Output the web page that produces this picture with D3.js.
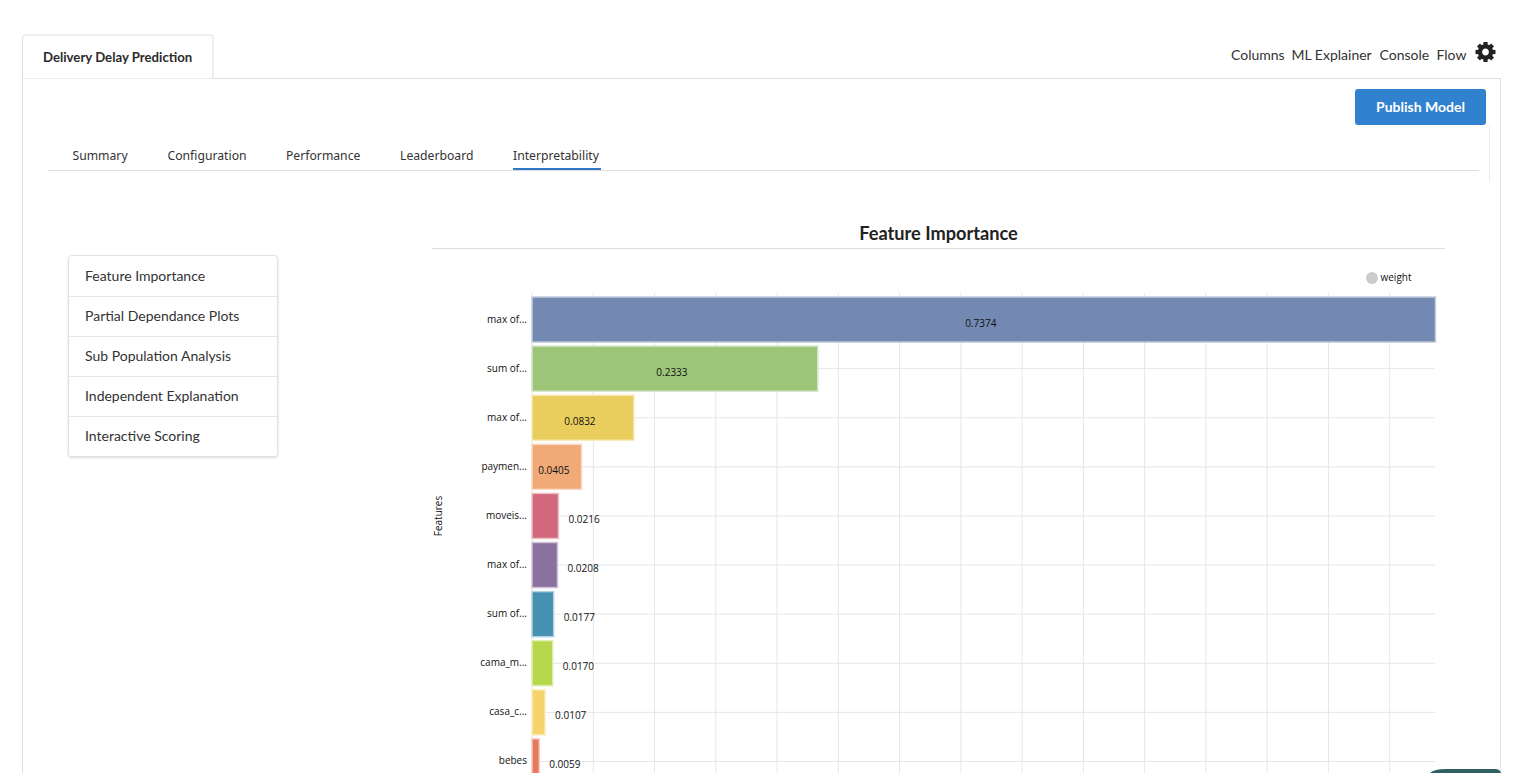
<!DOCTYPE html>
<html>
<head>
<meta charset="utf-8">
<script src="https://cdnjs.cloudflare.com/ajax/libs/d3/7.8.5/d3.min.js"></script>
<style>
  html, body { margin: 0; padding: 0; background: #fff; overflow: hidden; }
  svg { display: block; }
  text { font-family: Lato, sans-serif; fill: #2b2b2b; }
  .tab { font-family: "Noto Sans", sans-serif; font-size: 12.2px; fill: #333; }
  .side { font-size: 14px; fill: #333; }
  .nav { font-size: 14px; fill: #333; }
  .chart text { font-family: "Open Sans", sans-serif; font-size: 10px; fill: #111; }
  .grid line { stroke: #e6e6e6; }
  .grid path { display: none; }
</style>
</head>
<body>
<script>
// values
var features = ['max of...', 'sum of...', 'max of... ', 'paymen...', 'moveis...', 'max of...  ', 'sum of... ', 'cama_m...', 'casa_c...', 'bebes'];
var weights = [0.7374, 0.2333, 0.0832, 0.0405, 0.0216, 0.0208, 0.0177, 0.0170, 0.0107, 0.0059];
var barColors = ['#7389b1', '#9cc57a', '#e9ce5d', '#efaa78', '#d1687b', '#8b71a0', '#4691b1', '#b7d84c', '#f7d36d', '#e7785a'];
var xTicks = d3.range(0, 0.75, 0.05);

var navItems = ['Columns', 'ML Explainer', 'Console', 'Flow'];
var navX = [1231, 1291.5, 1379.5, 1436.5];
var tabItems = ['Summary', 'Configuration', 'Performance', 'Leaderboard', 'Interpretability'];
var tabX = [72.5, 167.5, 286, 400, 513];
var sideItems = ['Feature Importance', 'Partial Dependance Plots', 'Sub Population Analysis', 'Independent Explanation', 'Interactive Scoring'];

var svg = d3.select('body').append('svg')
  .attr('width', 1513)
  .attr('height', 773);

function hline(x1, x2, y, color) {
  svg.append('line').attr('x1', x1).attr('x2', x2).attr('y1', y).attr('y2', y).attr('stroke', color);
}
function vline(x, y1, y2, color) {
  svg.append('line').attr('x1', x).attr('x2', x).attr('y1', y1).attr('y2', y2).attr('stroke', color);
}

// page frame + top tab
hline(22, 1501, 78.5, '#dedede');
vline(22.5, 78, 773, '#dedede');
vline(1500.5, 78, 773, '#dedede');
svg.append('path')
  .attr('d', 'M22.5,78.5 V38 a3,3 0 0 1 3,-3 H210 a3,3 0 0 1 3,3 V78.5')
  .attr('fill', '#fff')
  .attr('stroke', '#dedede');
svg.append('text').attr('x', 43).attr('y', 62)
  .style('font-size', '13.2px').style('font-weight', 700)
  .text('Delivery Delay Prediction');

svg.selectAll('.nav').data(navItems).enter().append('text')
  .attr('class', 'nav')
  .attr('x', function(d, i) { return navX[i]; })
  .attr('y', 60)
  .text(function(d) { return d; });

// settings gear
var gear = svg.append('g').attr('transform', 'translate(1485.5,52)');
gear.selectAll('line').data(d3.range(8)).enter().append('line')
  .attr('x1', 0).attr('y1', -7).attr('x2', 0).attr('y2', -10)
  .attr('stroke', '#222').attr('stroke-width', 4.2)
  .attr('transform', function(d) { return 'rotate(' + (d * 45) + ')'; });
gear.append('circle').attr('r', 5.6).attr('fill', 'none').attr('stroke', '#222').attr('stroke-width', 4.4);

// publish button
svg.append('rect').attr('x', 1355).attr('y', 89).attr('width', 131).attr('height', 36).attr('rx', 3)
  .attr('fill', '#3182ce');
svg.append('text').attr('x', 1420.5).attr('y', 112).attr('text-anchor', 'middle')
  .style('font-size', '14px').style('font-weight', 700).style('fill', '#fff')
  .text('Publish Model');
vline(1489.5, 125, 182, '#ececec');

// sub tabs
svg.selectAll('.tab').data(tabItems).enter().append('text')
  .attr('class', 'tab')
  .attr('x', function(d, i) { return tabX[i]; })
  .attr('y', 160)
  .text(function(d) { return d; });
hline(48, 1479, 170.5, '#dedede');
svg.append('rect').attr('x', 513).attr('y', 168).attr('width', 88).attr('height', 2).attr('fill', '#2f78c4');

// side menu
svg.append('rect').attr('x', 68.5).attr('y', 255.5).attr('width', 209).attr('height', 201).attr('rx', 3)
  .attr('fill', '#fff').attr('stroke', '#e2e2e2')
  .style('filter', 'drop-shadow(0 1px 1px rgba(0,0,0,0.15))');
sideItems.forEach(function(d, i) {
  if (i > 0) hline(69, 277, 256.5 + i * 40, '#e6e6e6');
  svg.append('text').attr('class', 'side').attr('x', 85).attr('y', 281 + i * 40).text(d);
});

// chart title
svg.append('text').attr('x', 938.5).attr('y', 240).attr('text-anchor', 'middle')
  .style('font-size', '18.2px').style('font-weight', 700).style('fill', '#222')
  .text('Feature Importance');
hline(432, 1445, 248.5, '#dedede');

// chart
var x = d3.scaleLinear().domain([0, 0.7374]).range([532, 1435.5]);
var y = d3.scaleBand().domain(features).range([295, 786]).paddingInner(0.08).paddingOuter(0.04);

var chart = svg.append('g').attr('class', 'chart');

chart.append('g').attr('class', 'grid')
  .attr('transform', 'translate(0,293)')
  .call(d3.axisBottom(x).tickValues(xTicks).tickSize(500).tickFormat('').offset(0));
chart.append('g').attr('class', 'grid')
  .attr('transform', 'translate(532,0)')
  .call(d3.axisLeft(y).tickSize(-903).tickFormat('').offset(0));

chart.selectAll('.bar').data(weights).enter().append('rect')
  .attr('class', 'bar')
  .attr('x', x(0))
  .attr('y', function(d, i) { return y(features[i]); })
  .attr('width', function(d) { return x(d) - x(0); })
  .attr('height', y.bandwidth())
  .attr('fill', function(d, i) { return barColors[i]; })
  .attr('stroke', function(d, i) { return d3.interpolateRgb(barColors[i], '#fff')(0.6); })
  .attr('stroke-width', 1.5);

chart.selectAll('.val').data(weights).enter().append('text')
  .attr('class', 'val')
  .attr('x', function(d) { return d >= 0.04 ? (x(0) + x(d)) / 2 - 3 : x(d) + 10; })
  .attr('y', function(d, i) { return y(features[i]) + y.bandwidth() / 2 + 7; })
  .attr('text-anchor', function(d) { return d >= 0.04 ? 'middle' : 'start'; })
  .text(function(d) { return d.toFixed(4); });

// feature labels
chart.selectAll('.lab').data(features).enter().append('text')
  .attr('class', 'lab')
  .attr('x', 527)
  .attr('y', function(d) { return y(d) + y.bandwidth() / 2 + 3; })
  .attr('text-anchor', 'end')
  .text(function(d) { return d.trim(); });

chart.append('text')
  .attr('transform', 'translate(442,516) rotate(-90)')
  .attr('text-anchor', 'middle')
  .text('Features');

// legend
chart.append('circle').attr('cx', 1372).attr('cy', 278).attr('r', 6).attr('fill', '#cccccc');
chart.append('text').attr('x', 1380.5).attr('y', 281).text('weight');

// chat widget peeking in at the bottom
svg.append('path')
  .attr('d', 'M1430,773 q4,-4 16,-4 H1495 q5,0 6,4 Z')
  .attr('fill', '#2f5f60');
</script>
</body>
</html>
